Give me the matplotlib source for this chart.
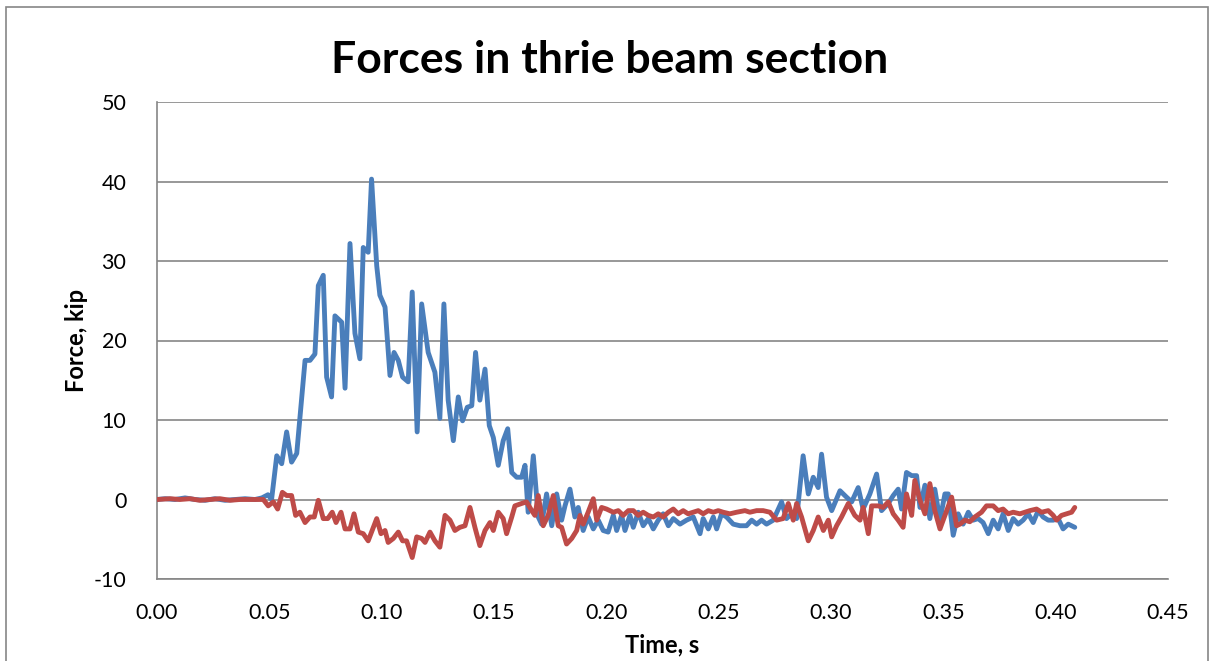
import numpy as np
import matplotlib
matplotlib.use("Agg")
import matplotlib.pyplot as plt
from matplotlib.patches import Rectangle

# values (time in s, force in kip)
t_blue = [0.0, 0.0036, 0.0080, 0.0125, 0.0169, 0.0214, 0.0258, 0.0303, 0.0347, 0.0392,
          0.0436, 0.0467, 0.0494, 0.0510, 0.0533, 0.0555, 0.0577, 0.0599, 0.0622, 0.0659,
          0.0681, 0.0703, 0.0718, 0.0740, 0.0755, 0.0777, 0.0792, 0.0822, 0.0837, 0.0859,
          0.0881, 0.0903, 0.0918, 0.0940, 0.0955, 0.0978, 0.0992, 0.1015, 0.1037, 0.1055,
          0.1074, 0.1093, 0.1118, 0.1136, 0.1158, 0.1178, 0.1207, 0.1237, 0.1259, 0.1277,
          0.1296, 0.1319, 0.1341, 0.1360, 0.1381, 0.1401, 0.1418, 0.1437, 0.1460, 0.1479,
          0.1497, 0.1519, 0.1541, 0.1561, 0.1579, 0.1601, 0.1623, 0.1638, 0.1652, 0.1675,
          0.1697, 0.1712, 0.1734, 0.1757, 0.1779, 0.1801, 0.1816, 0.1838, 0.1860, 0.1875,
          0.1897, 0.1919, 0.1942, 0.1964, 0.1986, 0.2008, 0.2031, 0.2046, 0.2068, 0.2083,
          0.2105, 0.2120, 0.2142, 0.2164, 0.2187, 0.2209, 0.2231, 0.2253, 0.2276, 0.2298,
          0.2328, 0.2357, 0.2387, 0.2417, 0.2431, 0.2454, 0.2476, 0.2491, 0.2513, 0.2535,
          0.2565, 0.2595, 0.2624, 0.2647, 0.2669, 0.2691, 0.2713, 0.2743, 0.2780, 0.2802,
          0.2825, 0.2847, 0.2876, 0.2899, 0.2921, 0.2943, 0.2958, 0.2980, 0.3003, 0.3040,
          0.3069, 0.3092, 0.3121, 0.3143, 0.3173, 0.3203, 0.3225, 0.3255, 0.3277, 0.3299,
          0.3314, 0.3336, 0.3359, 0.3381, 0.3396, 0.3418, 0.3440, 0.3462, 0.3485, 0.3507,
          0.3522, 0.3544, 0.3566, 0.3588, 0.3611, 0.3633, 0.3655, 0.3677, 0.3700, 0.3722,
          0.3744, 0.3766, 0.3789, 0.3811, 0.3833, 0.3855, 0.3878, 0.3900, 0.3922, 0.3944,
          0.3967, 0.3989, 0.4011, 0.4033, 0.4056, 0.4085]
f_blue = [0.0, 0.1, 0.0, 0.2, 0.0, -0.1, 0.1, -0.1, 0.0, 0.1,
          0.0, 0.2, 0.6, 0.0, 5.5, 4.5, 8.5, 4.7, 5.8, 17.5,
          17.5, 18.3, 26.9, 28.2, 15.4, 12.9, 23.1, 22.3, 14.0, 32.2,
          20.9, 17.7, 31.7, 31.1, 40.3, 29.4, 25.7, 24.2, 15.6, 18.5,
          17.5, 15.4, 14.8, 26.1, 8.5, 24.6, 18.5, 16.0, 10.2, 24.6,
          12.5, 7.4, 12.9, 9.9, 11.6, 11.8, 18.5, 12.5, 16.4, 9.3,
          7.8, 4.3, 7.4, 8.9, 3.4, 2.8, 2.8, 4.3, -1.6, 5.5,
          -2.2, -3.1, 0.7, -3.3, 0.7, -2.6, -0.8, 1.3, -2.2, -1.0,
          -3.9, -2.2, -3.7, -2.6, -3.9, -4.1, -2.0, -3.9, -2.0, -3.9,
          -2.0, -3.5, -1.6, -3.3, -2.4, -3.7, -2.6, -1.8, -3.3, -2.4,
          -3.1, -2.6, -2.2, -4.3, -2.4, -3.7, -2.2, -3.7, -1.8, -2.2,
          -3.1, -3.3, -3.3, -2.6, -3.1, -2.6, -3.1, -2.6, -0.3, -2.4,
          -1.8, -2.4, 5.5, 0.7, 2.8, 1.5, 5.7, 0.3, -1.4, 1.1,
          0.3, -0.3, 1.5, -1.2, 0.7, 3.2, -1.4, -0.5, 0.5, 1.3,
          -1.2, 3.4, 3.0, 3.0, -1.0, 1.8, -2.4, 1.3, -2.6, 0.7,
          0.7, -4.5, -1.8, -3.1, -1.6, -2.6, -2.4, -2.9, -4.3, -2.6,
          -3.7, -1.8, -3.9, -2.4, -3.1, -2.6, -1.8, -2.9, -1.4, -2.2,
          -2.6, -2.6, -2.4, -3.7, -3.1, -3.5]

t_red = [0.0, 0.0058, 0.0102, 0.0147, 0.0191, 0.0236, 0.0280, 0.0325, 0.0369, 0.0414,
         0.0473, 0.0495, 0.0518, 0.0537, 0.0558, 0.0577, 0.0599, 0.0617, 0.0636, 0.0659,
         0.0681, 0.0700, 0.0718, 0.0740, 0.0760, 0.0780, 0.0797, 0.0819, 0.0837, 0.0859,
         0.0877, 0.0896, 0.0918, 0.0940, 0.0963, 0.0978, 0.0997, 0.1015, 0.1029, 0.1052,
         0.1074, 0.1093, 0.1111, 0.1136, 0.1156, 0.1178, 0.1193, 0.1215, 0.1237, 0.1259,
         0.1282, 0.1304, 0.1326, 0.1348, 0.1371, 0.1393, 0.1415, 0.1437, 0.1460, 0.1482,
         0.1497, 0.1519, 0.1541, 0.1556, 0.1579, 0.1593, 0.1623, 0.1645, 0.1668, 0.1682,
         0.1697, 0.1719, 0.1741, 0.1764, 0.1786, 0.1801, 0.1823, 0.1846, 0.1868, 0.1883,
         0.1897, 0.1919, 0.1942, 0.1957, 0.1979, 0.2001, 0.2031, 0.2053, 0.2075, 0.2098,
         0.2120, 0.2142, 0.2164, 0.2187, 0.2209, 0.2231, 0.2253, 0.2276, 0.2298, 0.2320,
         0.2342, 0.2364, 0.2387, 0.2409, 0.2431, 0.2454, 0.2476, 0.2498, 0.2520, 0.2550,
         0.2580, 0.2617, 0.2639, 0.2669, 0.2698, 0.2728, 0.2758, 0.2787, 0.2810, 0.2832,
         0.2847, 0.2869, 0.2899, 0.2921, 0.2943, 0.2966, 0.2988, 0.3003, 0.3025, 0.3047,
         0.3077, 0.3106, 0.3129, 0.3143, 0.3166, 0.3181, 0.3210, 0.3232, 0.3255, 0.3277,
         0.3299, 0.3321, 0.3336, 0.3359, 0.3373, 0.3396, 0.3418, 0.3440, 0.3462, 0.3485,
         0.3507, 0.3537, 0.3559, 0.3574, 0.3596, 0.3618, 0.3640, 0.3670, 0.3692, 0.3722,
         0.3744, 0.3766, 0.3789, 0.3811, 0.3841, 0.3863, 0.3885, 0.3915, 0.3937, 0.3967,
         0.3989, 0.4004, 0.4026, 0.4049, 0.4071, 0.4085]
f_red = [0.0, 0.1, 0.0, 0.1, -0.1, 0.0, 0.1, -0.1, 0.0, 0.0,
         0.0, -0.8, -0.3, -1.2, 0.9, 0.5, 0.5, -2.0, -1.6, -2.9,
         -2.2, -2.2, -0.1, -2.4, -2.4, -1.6, -2.9, -1.6, -3.7, -3.7,
         -1.8, -4.1, -4.3, -5.2, -3.5, -2.4, -4.3, -3.9, -5.4, -4.9,
         -4.1, -5.2, -5.2, -7.3, -4.7, -4.9, -5.4, -4.1, -5.2, -6.0,
         -2.0, -2.6, -3.9, -3.5, -3.3, -1.0, -3.5, -5.8, -3.9, -2.9,
         -3.9, -1.6, -2.4, -4.3, -2.2, -0.8, -0.5, -0.3, -1.4, -2.0,
         0.5, -3.3, -2.0, 0.5, -3.3, -3.5, -5.6, -4.9, -3.9, -2.0,
         -3.1, -1.6, 0.1, -2.6, -1.0, -1.2, -1.6, -1.4, -2.0, -1.4,
         -1.4, -2.0, -1.6, -2.0, -2.2, -1.8, -2.2, -1.6, -1.2, -1.8,
         -1.4, -1.8, -1.6, -1.4, -1.8, -1.4, -1.6, -1.4, -1.6, -1.8,
         -1.6, -1.4, -1.6, -1.4, -1.4, -1.6, -2.6, -2.4, -0.5, -2.6,
         -0.5, -2.2, -5.2, -3.9, -2.2, -3.9, -2.6, -4.7, -3.3, -2.2,
         -0.5, -2.0, -2.6, -1.0, -4.3, -0.8, -0.8, -1.0, -0.3, -1.8,
         -2.6, -3.5, 0.7, -2.0, 2.4, -0.1, -1.8, 2.0, -1.4, -3.7,
         -2.0, 0.3, -3.3, -3.1, -2.6, -2.8, -2.2, -1.6, -0.8, -0.8,
         -1.4, -1.2, -1.8, -1.6, -1.8, -1.6, -1.4, -1.2, -1.6, -1.4,
         -2.0, -2.6, -2.0, -1.8, -1.6, -1.0]

x_ticks = [0.00, 0.05, 0.10, 0.15, 0.20, 0.25, 0.30, 0.35, 0.40, 0.45]
y_ticks = [-10, 0, 10, 20, 30, 40, 50]

plt.rcParams['font.family'] = ['Lato', 'DejaVu Sans']

fig = plt.figure(figsize=(12.14, 6.61), dpi=100)
ax = fig.add_axes([157/1214, 1 - 579/661, (1168 - 157)/1214, (579 - 102)/661])

# outer chart frame
fig.patches.append(Rectangle((6/1214, -0.02), 1202/1214, 1.02 - 7/661,
                             transform=fig.transFigure, fill=False,
                             edgecolor='#868686', linewidth=1.2))

ax.plot(t_blue, f_blue, color='#4A7EBB', linewidth=3.5,
        solid_joinstyle='round', solid_capstyle='round', zorder=3)
ax.plot(t_red, f_red, color='#BE4B48', linewidth=3.5,
        solid_joinstyle='round', solid_capstyle='round', zorder=4)

ax.set_xlim(0, 0.45)
ax.set_ylim(-10, 50)
ax.set_xticks(x_ticks)
ax.set_xticklabels(['%.2f' % v for v in x_ticks])
ax.set_yticks(y_ticks)
ax.set_yticklabels([str(v) for v in y_ticks])
ax.tick_params(length=0, labelsize=15.5, colors='black')
ax.tick_params(axis='x', pad=17)
ax.tick_params(axis='y', pad=22)

ax.yaxis.grid(True, color='#868686', linewidth=1.2)
ax.set_axisbelow(True)
for s in ['top', 'right']:
    ax.spines[s].set_visible(False)
for s in ['left', 'bottom']:
    ax.spines[s].set_color('#868686')
    ax.spines[s].set_linewidth(1.2)

ax.set_xlabel('Time, s', fontsize=17, fontweight='bold', labelpad=8)
ax.set_ylabel('Force, kip', fontsize=17, fontweight='bold', labelpad=4)

fig.text(610/1214, 1 - 60/661, 'Forces in thrie beam section',
         fontsize=32, fontweight='bold', ha='center', va='center')

fig.savefig('out.png', dpi=100)
